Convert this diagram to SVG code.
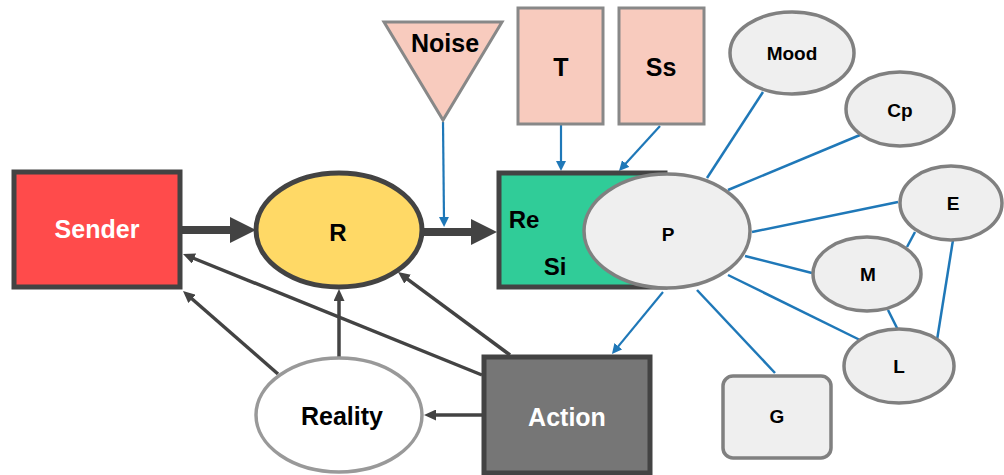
<svg xmlns="http://www.w3.org/2000/svg" width="1004" height="475" viewBox="0 0 1004 475">
  <defs>
    <style>
      text { font-family: "Liberation Sans", Arial, sans-serif; font-weight: bold; text-anchor: middle; fill: #000; }
      .big { font-size: 25px; }
      .mid { font-size: 24px; }
      .small { font-size: 19px; }
      .light { fill: #fff; }
      .peach { fill: #f8cbbe; stroke: #888; stroke-width: 3; }
      .grey { fill: #efefef; stroke: #808080; stroke-width: 3.5; }
      .flow { stroke: #434343; stroke-width: 8; fill: none; }
      .feed { stroke: #434343; stroke-width: 3.5; fill: none; }
      .link { stroke: #1f78b8; stroke-width: 2.5; fill: none; }
      .link-arrow { stroke: #1f78b8; stroke-width: 2.2; fill: none; }
    </style>
    <marker id="headBig" markerUnits="userSpaceOnUse" markerWidth="26" markerHeight="26" refX="6" refY="13" orient="auto">
      <path d="M0,0 L26,13 L0,26 z" fill="#434343"/>
    </marker>
    <marker id="headDark" markerUnits="userSpaceOnUse" markerWidth="12" markerHeight="11" refX="4" refY="5.5" orient="auto">
      <path d="M0,0 L12,5.5 L0,11 z" fill="#434343"/>
    </marker>
    <marker id="headBlue" markerUnits="userSpaceOnUse" markerWidth="10" markerHeight="10" refX="3" refY="5" orient="auto">
      <path d="M0,0 L10,5 L0,10 z" fill="#1f78b8"/>
    </marker>
  </defs>

  <g id="connectors">
    <!-- main message flow -->
    <line class="flow" x1="182" y1="230" x2="236" y2="230" marker-end="url(#headBig)"/>
    <line class="flow" x1="423" y1="232" x2="477" y2="232" marker-end="url(#headBig)"/>
    <!-- feedback paths -->
    <line class="feed" x1="482" y1="415" x2="432" y2="415" marker-end="url(#headDark)"/>
    <line class="feed" x1="339" y1="357" x2="339" y2="297" marker-end="url(#headDark)"/>
    <line class="feed" x1="278" y1="374" x2="189" y2="296.3" marker-end="url(#headDark)"/>
    <line class="feed" x1="482" y1="375" x2="190.4" y2="257" marker-end="url(#headDark)"/>
    <line class="feed" x1="510" y1="355" x2="404.4" y2="276.8" marker-end="url(#headDark)"/>
    <!-- influences -->
    <line class="link-arrow" x1="443" y1="122" x2="444" y2="220" marker-end="url(#headBlue)"/>
    <line class="link-arrow" x1="561" y1="125" x2="561" y2="164" marker-end="url(#headBlue)"/>
    <line class="link-arrow" x1="660" y1="126" x2="623.7" y2="165.8" marker-end="url(#headBlue)"/>
    <line class="link-arrow" x1="663" y1="292" x2="616.4" y2="348.6" marker-end="url(#headBlue)"/>
    <!-- factors around P -->
    <line class="link" x1="763" y1="92" x2="707" y2="178"/>
    <line class="link" x1="860" y1="135" x2="728" y2="190"/>
    <line class="link" x1="898" y1="202" x2="752" y2="232"/>
    <line class="link" x1="812" y1="273" x2="745" y2="256"/>
    <line class="link" x1="860" y1="340" x2="728" y2="275"/>
    <line class="link" x1="775" y1="373" x2="697" y2="290"/>
    <line class="link" x1="915" y1="232" x2="907" y2="247"/>
    <line class="link" x1="953" y1="240" x2="937" y2="340"/>
    <line class="link" x1="888" y1="310" x2="898" y2="330"/>
  </g>

  <g id="sender">
    <rect x="14" y="172" width="166" height="115" fill="#ff4b4b" stroke="#434343" stroke-width="5"/>
    <text class="big light" x="97" y="238">Sender</text>
  </g>

  <g id="r">
    <ellipse cx="339" cy="230" rx="83" ry="57" fill="#ffd966" stroke="#434343" stroke-width="5"/>
    <text class="mid" x="338" y="241">R</text>
  </g>

  <g id="noise">
    <polygon class="peach" points="384,22 502,22 443,120"/>
    <text class="big" x="445" y="52">Noise</text>
  </g>

  <g id="t">
    <rect class="peach" x="518" y="8" width="85" height="116"/>
    <text class="big" x="561" y="76">T</text>
  </g>

  <g id="ss">
    <rect class="peach" x="619" y="8" width="85" height="116"/>
    <text class="big" x="661" y="76">Ss</text>
  </g>

  <g id="re-si">
    <rect x="499" y="173" width="166" height="114" fill="#30cc98" stroke="#434343" stroke-width="5"/>
    <text class="mid" x="524" y="228">Re</text>
    <text class="mid" x="555" y="275">Si</text>
  </g>

  <g id="p">
    <ellipse class="grey" cx="667" cy="231" rx="83" ry="57"/>
    <text class="small" x="668" y="241">P</text>
  </g>

  <g id="mood">
    <ellipse class="grey" cx="792" cy="53" rx="62" ry="41"/>
    <text class="small" x="792" y="60">Mood</text>
  </g>

  <g id="cp">
    <ellipse class="grey" cx="900" cy="109" rx="54" ry="37"/>
    <text class="small" x="900" y="117">Cp</text>
  </g>

  <g id="e">
    <ellipse class="grey" cx="951" cy="203" rx="51" ry="37"/>
    <text class="small" x="953" y="210">E</text>
  </g>

  <g id="m">
    <ellipse class="grey" cx="867" cy="274" rx="54" ry="37"/>
    <text class="small" x="868" y="281">M</text>
  </g>

  <g id="l">
    <ellipse class="grey" cx="899" cy="366" rx="55" ry="37"/>
    <text class="small" x="899" y="373">L</text>
  </g>

  <g id="g">
    <rect class="grey" x="723" y="376" width="108" height="82" rx="10" ry="10"/>
    <text class="small" x="777" y="423">G</text>
  </g>

  <g id="action">
    <rect x="484" y="357" width="166" height="116" fill="#767676" stroke="#434343" stroke-width="5"/>
    <text class="big light" x="567" y="426">Action</text>
  </g>

  <g id="reality">
    <ellipse cx="339" cy="415" rx="83" ry="57" fill="#fff" stroke="#999" stroke-width="3.5"/>
    <text class="big" x="342" y="425">Reality</text>
  </g>
</svg>
